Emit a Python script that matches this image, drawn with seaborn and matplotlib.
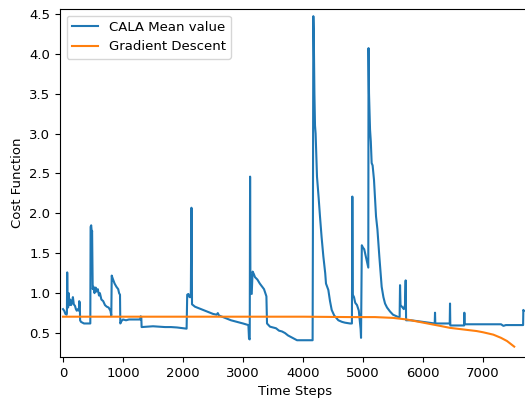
import numpy as np
import pandas as pd
import matplotlib
matplotlib.use("Agg")
import matplotlib.pyplot as plt
import seaborn as sns

# CALA mean value (time step, cost)
cala_t = [0, 20, 40, 60, 65, 70, 75, 85, 95, 105, 120, 135, 150, 165, 180, 200, 215, 230, 250, 265,
          270, 280, 285, 300, 350, 400, 455, 460, 470, 480, 485, 495, 510, 525, 545, 560, 580, 600,
          615, 640, 670, 700, 730, 760, 790, 805, 812, 830, 860, 890, 920, 935, 950, 955, 975, 1000,
          1050, 1100, 1200, 1285, 1295, 1305, 1310, 1400, 1500, 1600, 1700, 1800, 1900, 2000, 2060,
          2070, 2090, 2110, 2130, 2140, 2145, 2150, 2200, 2300, 2400, 2500, 2560, 2580, 2600, 2700,
          2800, 2900, 3000, 3090, 3100, 3112, 3118, 3124, 3145, 3160, 3180, 3200, 3240, 3280, 3320,
          3350, 3390, 3400, 3450, 3500, 3550, 3600, 3650, 3700, 3750, 3800, 3850, 3900, 4000, 4100,
          4160, 4165, 4172, 4180, 4190, 4200, 4210, 4233, 4260, 4283, 4310, 4339, 4370, 4383, 4422,
          4450, 4478, 4520, 4589, 4650, 4700, 4783, 4815, 4822, 4830, 4850, 4870, 4900, 4930, 4960,
          4967, 4975, 4980, 5000, 5020, 5050, 5080, 5088, 5092, 5100, 5117, 5130, 5144, 5160, 5183,
          5200, 5217, 5240, 5272, 5311, 5340, 5367, 5400, 5450, 5500, 5589, 5610, 5617, 5625, 5660,
          5680, 5700, 5711, 5718, 5800, 5900, 6000, 6100, 6195, 6200, 6205, 6300, 6445, 6450, 6455,
          6600, 6685, 6689, 6693, 6900, 7100, 7300, 7340, 7380, 7500, 7668, 7672, 7680]
cala_v = [0.80, 0.78, 0.74, 0.73, 0.75, 1.26, 0.95, 0.82, 1.00, 0.85, 0.92, 0.85, 0.88, 0.95, 0.86,
          0.84, 0.80, 0.78, 0.80, 0.78, 0.90, 0.88, 0.66, 0.64, 0.62, 0.62, 0.62, 1.83, 1.85, 1.75,
          1.78, 1.05, 1.08, 1.00, 1.07, 1.02, 1.05, 0.97, 1.00, 0.92, 0.90, 0.85, 0.83, 0.82, 0.78,
          0.72, 1.22, 1.18, 1.12, 1.08, 1.05, 1.00, 0.98, 0.62, 0.65, 0.67, 0.66, 0.67, 0.67, 0.67,
          0.71, 0.70, 0.575, 0.58, 0.585, 0.58, 0.575, 0.575, 0.57, 0.56, 0.555, 0.98, 0.99, 0.95,
          0.95, 2.07, 2.05, 0.86, 0.83, 0.80, 0.77, 0.74, 0.73, 0.75, 0.72, 0.69, 0.66, 0.64, 0.62,
          0.60, 0.43, 0.42, 2.46, 1.00, 0.99, 1.27, 1.24, 1.20, 1.17, 1.12, 1.08, 1.05, 0.96, 0.62,
          0.58, 0.57, 0.56, 0.53, 0.52, 0.50, 0.47, 0.45, 0.43, 0.41, 0.41, 0.41, 0.41, 1.77, 4.47,
          4.20, 3.50, 3.10, 3.00, 2.46, 2.20, 1.96, 1.70, 1.46, 1.25, 1.12, 1.04, 0.90, 0.79, 0.72,
          0.66, 0.64, 0.63, 0.62, 0.62, 2.21, 0.98, 0.95, 0.88, 0.85, 0.78, 0.55, 0.44, 1.20, 1.60,
          1.57, 1.55, 1.45, 1.35, 1.32, 4.07, 3.50, 3.05, 2.90, 2.63, 2.60, 2.42, 2.20, 1.96, 1.80,
          1.46, 1.08, 0.95, 0.87, 0.82, 0.77, 0.73, 0.70, 0.70, 1.10, 0.85, 0.82, 0.80, 0.85, 1.16,
          0.66, 0.66, 0.65, 0.64, 0.63, 0.62, 0.755, 0.62, 0.62, 0.62, 0.87, 0.595, 0.595, 0.595,
          0.755, 0.61, 0.61, 0.61, 0.61, 0.59, 0.60, 0.60, 0.60, 0.79, 0.78]

# Gradient descent (time step, cost)
gd_t = [0, 1000, 2000, 3000, 4000, 4800, 5200, 5500, 5728, 6006, 6283, 6450, 6617, 6894, 7000,
        7172, 7300, 7400, 7520]
gd_v = [0.705, 0.705, 0.705, 0.705, 0.705, 0.70, 0.70, 0.69, 0.67, 0.63, 0.59, 0.565, 0.55,
        0.525, 0.51, 0.48, 0.44, 0.40, 0.33]

cala_label = "CALA Mean value"
gd_label = "Gradient Descent"
x_label = "Time Steps"
y_label = "Cost Function"

cala_df = pd.DataFrame({"t": cala_t, "v": cala_v})
gd_df = pd.DataFrame({"t": gd_t, "v": gd_v})

plt.rcParams["font.family"] = ["DejaVu Sans"]
plt.rcParams["font.size"] = 9.5

fig = plt.figure(figsize=(5.25, 3.98), dpi=100)
ax = fig.add_axes([60 / 525, 41 / 398, 470 / 525, 348 / 398])

sns.lineplot(data=cala_df, x="t", y="v", estimator=None, sort=False, ax=ax,
             color="#1f77b4", linewidth=1.5, label=cala_label)
sns.lineplot(data=gd_df, x="t", y="v", estimator=None, sort=False, ax=ax,
             color="#ff7f0e", linewidth=1.5, label=gd_label)

ax.set_xlim(-50, 7783)
ax.set_ylim(0.2, 4.56)
ax.set_xticks([0, 1000, 2000, 3000, 4000, 5000, 6000, 7000])
ax.set_yticks([0.5, 1.0, 1.5, 2.0, 2.5, 3.0, 3.5, 4.0, 4.5])
ax.set_xlabel(x_label, fontsize=9.5)
ax.set_ylabel(y_label, fontsize=9.5)
ax.tick_params(labelsize=9.5)
ax.legend(loc="upper left", fontsize=9.5)

fig.savefig("out.png", dpi=100)
